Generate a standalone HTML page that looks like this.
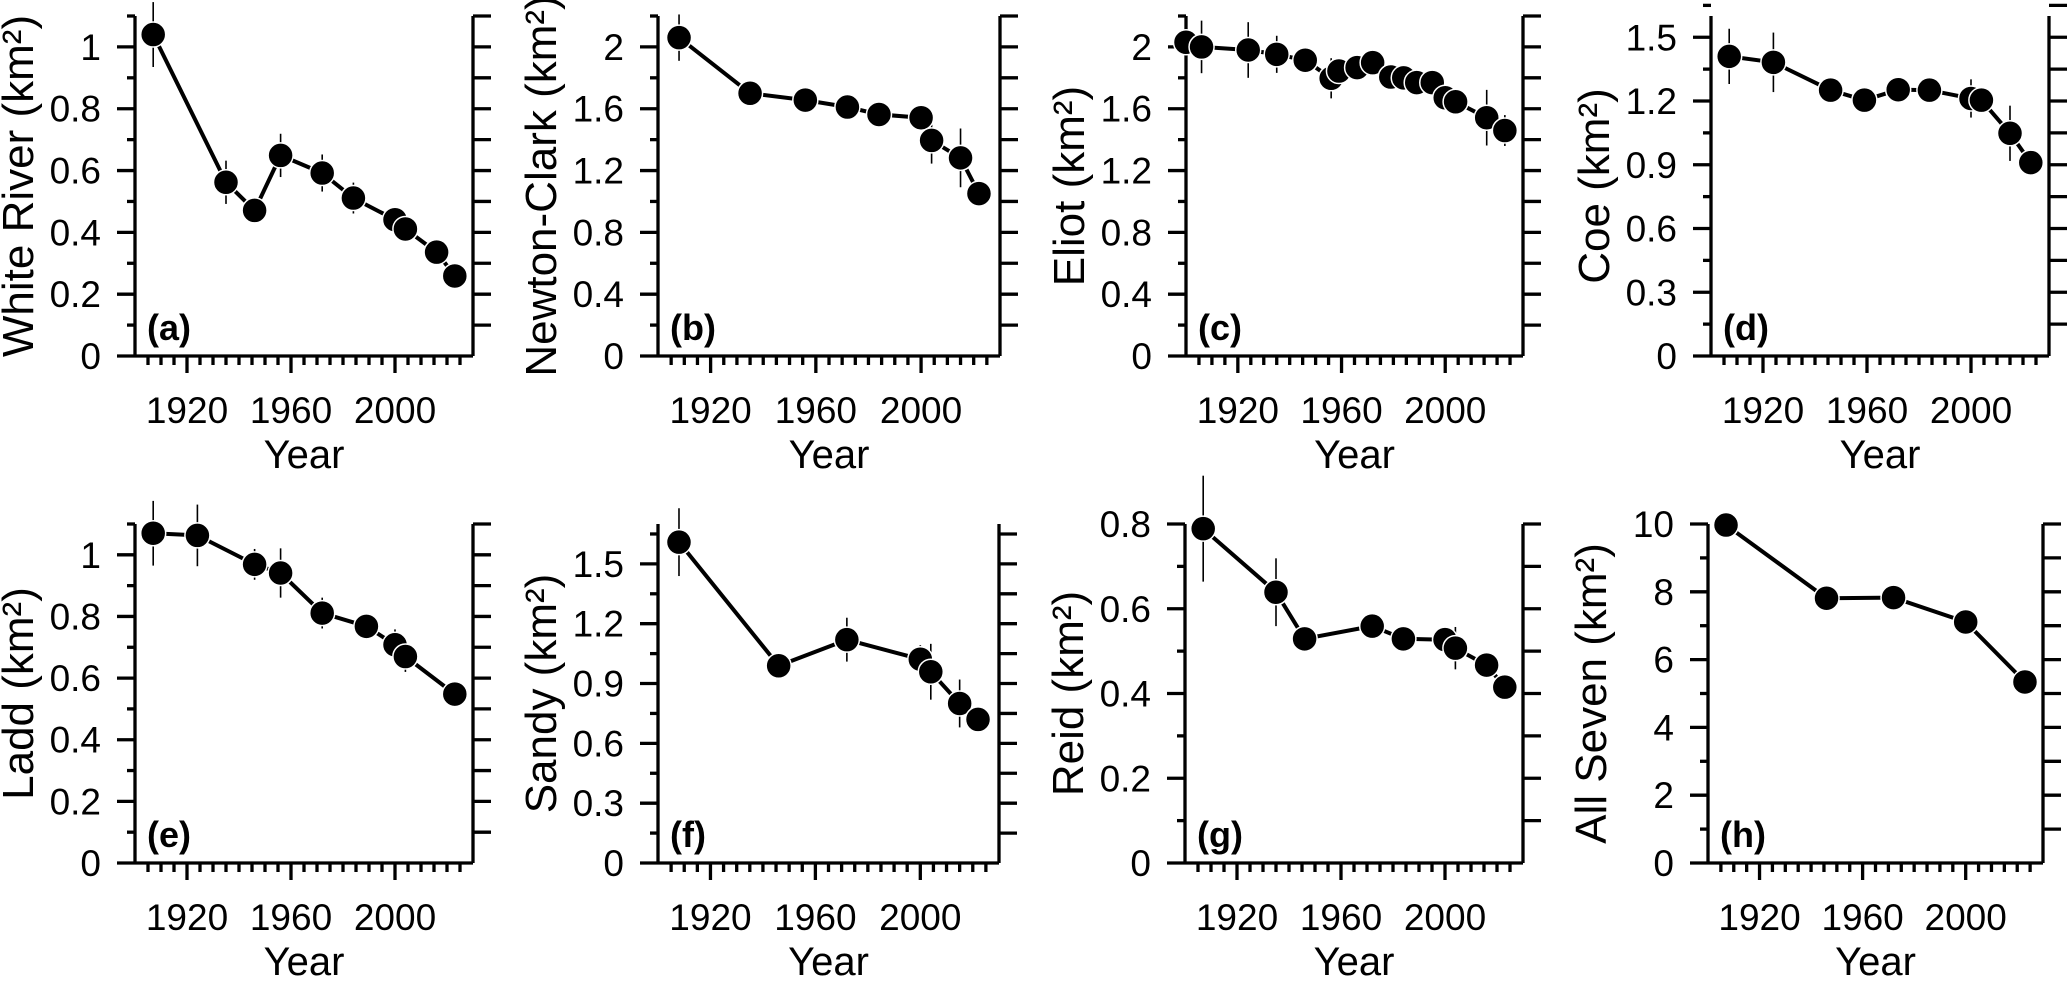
<!DOCTYPE html>
<html><head><meta charset="utf-8">
<style>
html,body{margin:0;padding:0;background:#fff;}
svg{display:block;font-family:"Liberation Sans",Arial,sans-serif;}
</style></head>
<body>
<svg id="fig" width="2068" height="983" viewBox="0 0 2068 983" xmlns="http://www.w3.org/2000/svg"></svg>
<script>
// ---- data ----
const yearsA = [1907,1935,1946,1956,1972,1984,2000,2004,2016,2023];
const valsA  = [1.04,0.562,0.471,0.649,0.592,0.511,0.441,0.411,0.336,0.259];
const errsA  = [0.105,0.07,0,0.07,0.06,0.05,0.01,0.01,0.04,0];

const yearsB = [1908,1935,1956,1972,1984,2000,2004,2015,2022];
const valsB  = [2.06,1.70,1.656,1.611,1.563,1.542,1.395,1.282,1.051];
const errsB  = [0.15,0,0.04,0.04,0.04,0.05,0.15,0.19,0];

const yearsC = [1900,1906,1924,1935,1946,1956,1959,1966,1972,1979,1984,1989,1995,2000,2004,2016,2023];
const valsC  = [2.03,2.00,1.98,1.952,1.914,1.797,1.844,1.866,1.898,1.805,1.80,1.769,1.769,1.671,1.645,1.542,1.459];
const errsC  = [0.1,0.17,0.18,0.12,0,0.13,0,0,0,0,0,0,0,0.07,0,0.18,0.1];

const yearsD = [1907,1924,1946,1959,1972,1984,2000,2004,2015,2023];
const valsD  = [1.41,1.382,1.251,1.204,1.253,1.251,1.212,1.204,1.048,0.91];
const errsD  = [0.13,0.14,0,0,0,0,0.09,0,0.13,0.04];

const yearsE = [1907,1924,1946,1956,1972,1989,2000,2004,2023];
const valsE  = [1.07,1.063,0.969,0.941,0.811,0.768,0.708,0.670,0.548];
const errsE  = [0.105,0.1,0.05,0.08,0.05,0,0.05,0.05,0];

const yearsF = [1908,1946,1972,2000,2004,2015,2022];
const valsF  = [1.609,0.989,1.12,1.022,0.959,0.80,0.72];
const errsF  = [0.17,0.05,0.11,0.07,0.14,0.12,0];

const yearsG = [1907,1935,1946,1972,1984,2000,2004,2016,2023];
const valsG  = [0.789,0.639,0.529,0.559,0.529,0.527,0.507,0.467,0.415];
const errsG  = [0.125,0.08,0,0,0,0.03,0.05,0,0];

const yearsH = [1907,1946,1972,2000,2023];
const valsH  = [9.97,7.81,7.83,7.11,5.34];
const errsH  = [0,0,0,0,0];

const panelTitles = ["White River (km²)","Newton-Clark (km²)","Eliot (km²)","Coe (km²)","Ladd (km²)","Sandy (km²)","Reid (km²)","All Seven (km²)"];
const panelLetters = ["(a)","(b)","(c)","(d)","(e)","(f)","(g)","(h)"];
const yTops = [1.1,2.2,2.2,1.6,1.1,1.7,0.8,10];
const yMinor = [0.1,0.2,0.2,0.15,0.1,0.15,0.1,1];
const yMajor = [0.2,0.4,0.4,0.3,0.2,0.3,0.2,2];
const xTickLabels = [1920,1960,2000];

const seriesYears = [yearsA,yearsB,yearsC,yearsD,yearsE,yearsF,yearsG,yearsH];
const seriesVals  = [valsA,valsB,valsC,valsD,valsE,valsF,valsG,valsH];
const seriesErrs  = [errsA,errsB,errsC,errsD,errsE,errsF,errsG,errsH];

// ---- layout ----
const boxes = [
  {l:135,r:473,b:356,t:16},{l:658,r:1000,b:356,t:16},{l:1186,r:1523,b:356,t:16},{l:1711,r:2049,b:356,t:16},
  {l:135,r:473,b:863,t:524},{l:658,r:999,b:863,t:524},{l:1185,r:1523,b:863,t:524},{l:1708,r:2043,b:863,t:524}
];
const X0 = 1900, X1 = 2030;
const svg = document.getElementById('fig');
const NS = 'http://www.w3.org/2000/svg';
function mk(tag, attrs, parent){
  const e = document.createElementNS(NS, tag);
  for (const k in attrs) e.setAttribute(k, attrs[k]);
  (parent||svg).appendChild(e);
  return e;
}
function fmt(v){
  return (Math.round(v*100)/100).toString();
}

boxes.forEach((bx, i) => {
  const g = mk('g', {});
  
  
  const xs = yr => bx.l + (yr - X0) / (X1 - X0) * (bx.r - bx.l);
  const ys = v => bx.b - v / yTops[i] * (bx.b - bx.t);

  const ax = mk('path', {d:`M${bx.l-18},${bx.b}H${bx.r}M${bx.l},${bx.b}V${bx.t}M${bx.r},${bx.b}V${bx.t}`, stroke:'#000','stroke-width':3.3, fill:'none'}, g);
  
  

  const nT = Math.round(yTops[i] / yMinor[i] + 1e-6);
  for (let k = 0; k <= nT; k++) {
    const v = k * yMinor[i];
    const y = ys(v);
    const isMaj = Math.abs(v / yMajor[i] - Math.round(v / yMajor[i])) < 1e-6;
    if (k > 0) {
      const tl = mk('line', {x1:bx.l - (isMaj ? 18 : 8), x2:bx.l, y1:y, y2:y, stroke:'#000','stroke-width':3.3}, g);
      
      
      const tr = mk('line', {x1:bx.r, x2:bx.r + 18, y1:y, y2:y, stroke:'#000','stroke-width':3.3}, g);
      
      
    }
    if (isMaj) {
      const t = mk('text', {x:bx.l - 34, y:y + 13, 'text-anchor':'end', 'font-size':37}, g);
      t.textContent = fmt(v);
      
      
    }
  }
  for (let yr = 1905; yr <= 2025; yr += 5) {
    const x = xs(yr);
    const maj = xTickLabels.indexOf(yr) >= 0;
    const tk = mk('line', {x1:x, x2:x, y1:bx.b, y2:bx.b + (maj ? 17 : 9), stroke:'#000','stroke-width':3.3}, g);
    
    
  }
  xTickLabels.forEach(yr => {
    const t = mk('text', {x:xs(yr), y:bx.b + 67, 'text-anchor':'middle', 'font-size':37}, g);
    t.textContent = yr;
    
    
  });
  const xt = mk('text', {x:(bx.l + bx.r) / 2, y:bx.b + 112, 'text-anchor':'middle', 'font-size':40}, g);
  xt.textContent = 'Year';
  
  
  const cy = (bx.t + bx.b) / 2;
  const yt = mk('text', {x:0, y:0, 'text-anchor':'middle', 'font-size':44, transform:`translate(${bx.l - 102},${cy}) rotate(-90)`}, g);
  yt.textContent = panelTitles[i];
  
  
  const pl = mk('text', {x:bx.l + 12, y:bx.b - 16, 'font-size':36, 'font-weight':'bold'}, g);
  pl.textContent = panelLetters[i];
  
  

  const yrs = seriesYears[i], vals = seriesVals[i], errs = seriesErrs[i];
  yrs.forEach((yr, k) => {
    if (errs[k] > 0) {
      const eb = mk('line', {x1:xs(yr), x2:xs(yr), y1:ys(vals[k] - errs[k]), y2:ys(vals[k] + errs[k]), stroke:'#000','stroke-width':1.6}, g);
      
      
    }
  });
  const d = yrs.map((yr, k) => (k ? 'L' : 'M') + xs(yr).toFixed(1) + ',' + ys(vals[k]).toFixed(1)).join('');
  const ln = mk('path', {d:d, stroke:'#000','stroke-width':4, fill:'none','stroke-linejoin':'round'}, g);
  
  
  yrs.forEach((yr, k) => {
    const c = mk('circle', {cx:xs(yr), cy:ys(vals[k]), r:12.5, fill:'#000', stroke:'#fff','stroke-width':1.5}, g);
    
    
  });
});
</script>
</body></html>
